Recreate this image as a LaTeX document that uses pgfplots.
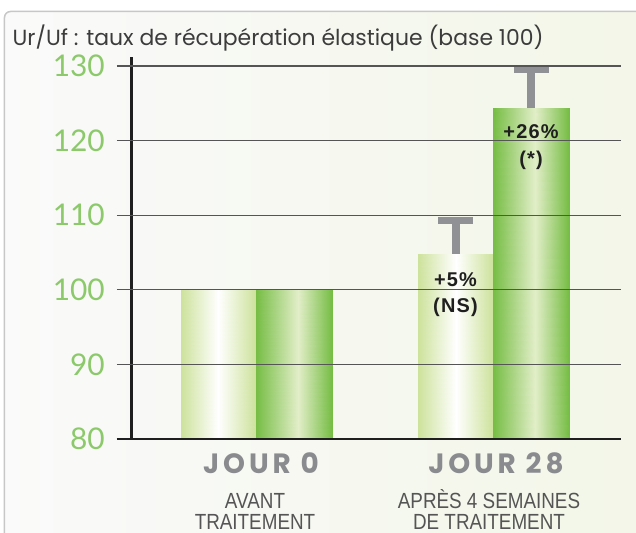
\documentclass[border=0pt]{standalone}
\usepackage{fontspec}
\usepackage{pgfplots}
\pgfplotsset{compat=1.18}
\setmainfont{Poppins}
\newfontfamily\titlefont{Poppins}
\newfontfamily\tickfont{Lato}
\newfontfamily\jourfont[LetterSpace=14]{Poppins}
\newfontfamily\subfont[FakeStretch=0.86]{Liberation Sans}
\newfontfamily\barfont[LetterSpace=6]{Liberation Sans}
\definecolor{tickgreen}{HTML}{8CC96B}
\definecolor{lightL}{HTML}{CDE29B}
\definecolor{darkL}{HTML}{76BD44}
\definecolor{darkM}{HTML}{E2EEC8}
\definecolor{errgray}{HTML}{909195}
\definecolor{gridgray}{HTML}{555555}
\definecolor{bgright}{HTML}{F2F6E6}
\definecolor{jourgray}{HTML}{8A8B8F}
\definecolor{titlegray}{HTML}{3C3C3C}
\definecolor{subgray}{HTML}{555555}
\pgfplotstableread{
x y c
181 80 0
218.5 80 1
218.5 100 1
181 100 0
218.5 80 1
256 80 0
256 100 0
218.5 100 1
418 80 0
455.5 80 1
455.5 104.8 1
418 104.8 0
455.5 80 1
493 80 0
493 104.8 0
455.5 104.8 1
}\lightbars
\pgfplotstableread{
x y c
256 80 2
297.8 80 3
297.8 100 3
256 100 2
297.8 80 3
332 80 2
332 100 2
297.8 100 3
493 80 2
534.8 80 3
534.8 124.4 3
493 124.4 2
534.8 80 3
569 80 2
569 124.4 2
534.8 124.4 3
}\darkbars
\begin{document}
\begin{tikzpicture}
\begin{axis}[
  name=ax,
  scale only axis,
  width=504bp, height=382bp,
  xmin=117, xmax=621,
  ymin=80, ymax=131.2,
  axis on top,
  axis lines=left,
  axis line style={-},
  y axis line style={draw=none},
  x axis line style={line width=2.6bp, color=black!88},
  ytick={80,90,100,110,120,130},
  xtick=\empty,
  major tick length=0pt,
  tick style={draw=none},
  ymajorgrids,
  grid style={line width=1.2bp, color=gridgray},
  /pgf/number format/assume math mode=true,
  yticklabel style={anchor=east, inner sep=0pt, xshift=-12bp, text=tickgreen,
     font=\tickfont\fontsize{30}{32}\selectfont},
  colormap={barmap}{color(0cm)=(lightL) color(1cm)=(white) color(2cm)=(darkL) color(3cm)=(darkM)},
  point meta min=0, point meta max=3,
  clip=false,
]
% page box and frame (in axis coordinates: x = pixel, y from pixel via 7.4609 px per unit)
\coordinate (pgSW) at (axis cs:0,67.401);
\coordinate (pgNE) at (axis cs:636,138.840);
\draw[rounded corners=6bp, draw=black!22, line width=1.5bp, left color=white!98!black, right color=bgright]
  (axis cs:4.5,137.299) rectangle (axis cs:690,60);
% title
\node[anchor=base west, inner sep=0, text=titlegray, font=\titlefont\fontsize{22}{26}\selectfont]
  at (axis cs:12.5,132.808) {Ur/Uf : taux de récupération élastique (base 100)};
% bars
\addplot[patch, patch type=rectangle, shader=interp, point meta=explicit]
  table[x=x, y=y, meta=c] {\lightbars};
\addplot[patch, patch type=rectangle, shader=interp, point meta=explicit]
  table[x=x, y=y, meta=c] {\darkbars};
% error bars
\addplot[draw=none, mark=none,
  error bars/.cd, y dir=plus, y explicit,
  error bar style={line width=8bp, draw=errgray},
  error mark=-,
  error mark options={rotate=90, line width=7bp, mark size=17.5bp, draw=errgray}]
  coordinates {(455.5,104.8) +- (0,4.45) (531,124.4) +- (0,5.1)};
% left axis line
\draw[line width=2.2bp, color=black!88] (axis cs:131.5,80) -- (axis cs:131.5,131.2);
% bar labels
\node[font=\barfont\bfseries\fontsize{20}{22}\selectfont, text=black!88] at (axis cs:455.5,101.3) {+5\%};
\node[font=\barfont\bfseries\fontsize{20}{22}\selectfont, text=black!88] at (axis cs:455.5,97.6) {(NS)};
\node[font=\barfont\bfseries\fontsize{20}{22}\selectfont, text=black!88] at (axis cs:531,121.15) {+26\%};
\node[font=\barfont\bfseries\fontsize{20}{22}\selectfont, text=black!88] at (axis cs:531,117.4) {(*)};
% category labels
\node[anchor=base, inner sep=0, text=jourgray, font=\jourfont\bfseries\fontsize{28}{30}\selectfont] at (axis cs:261,75.443) {JOUR 0};
\node[anchor=base, inner sep=0, text=jourgray, font=\jourfont\bfseries\fontsize{28}{30}\selectfont] at (axis cs:496,75.443) {JOUR 28};
\node[anchor=base, inner sep=0, text=subgray, align=center, font=\subfont\fontsize{22}{21}\selectfont] at (axis cs:255,67.937) {AVANT\\TRAITEMENT};
\node[anchor=base, inner sep=0, text=subgray, align=center, font=\subfont\fontsize{22}{21}\selectfont] at (axis cs:489,67.937) {APRÈS 4 SEMAINES\\DE TRAITEMENT};
\end{axis}
\pgfresetboundingbox
\useasboundingbox (pgSW) rectangle (pgNE);
\end{tikzpicture}
\end{document}
